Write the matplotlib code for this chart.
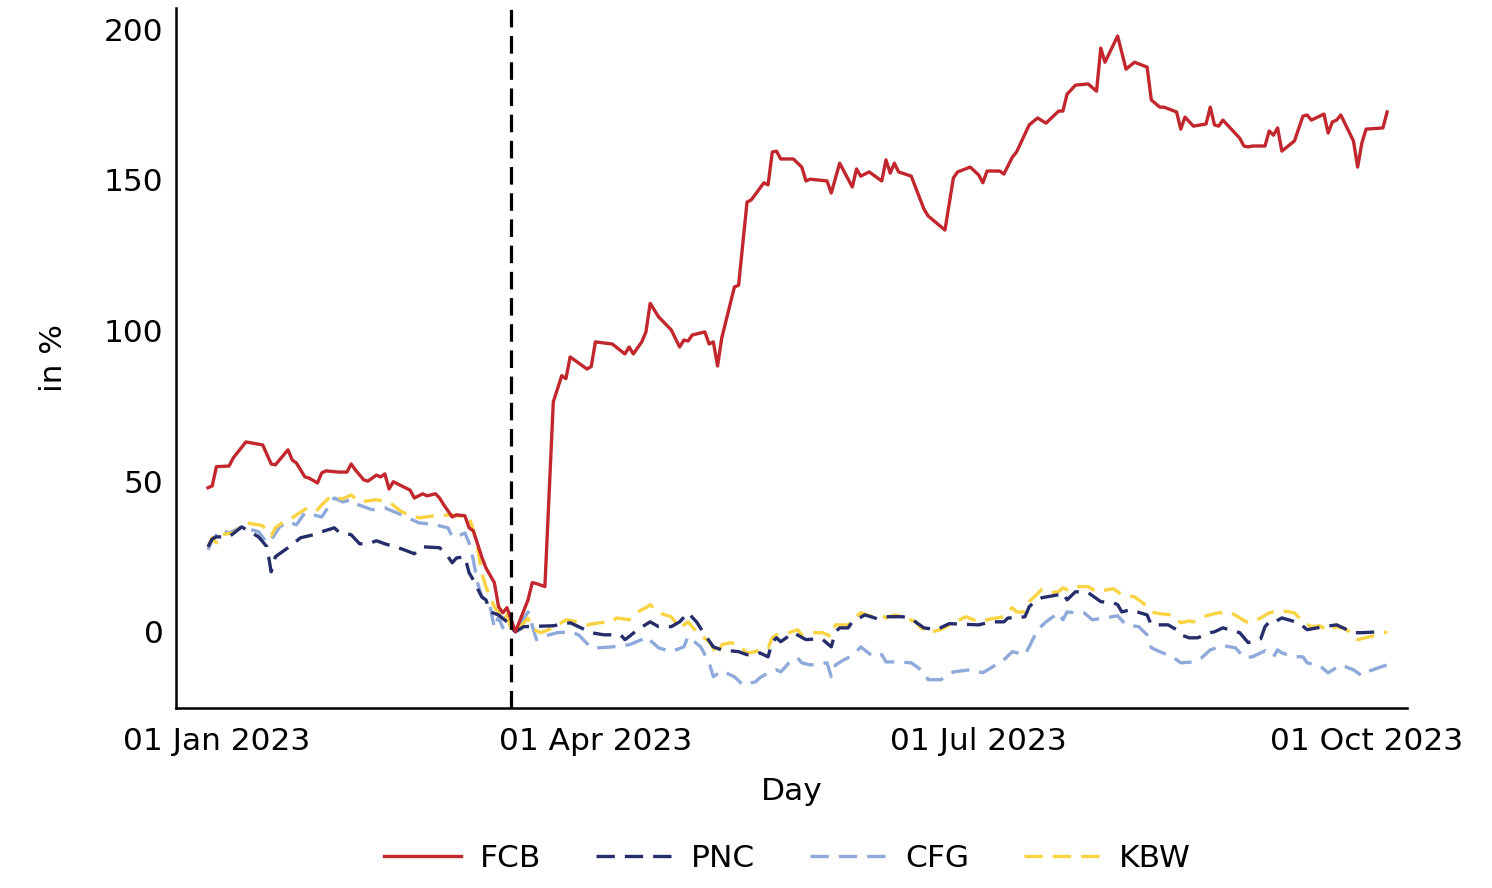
import matplotlib
matplotlib.use('Agg')
import matplotlib.pyplot as plt
import matplotlib.dates as mdates
import pandas as pd

# Kursentwicklung relativ zum 13.03.2023, in %

fcb_dates = ['2022-12-30', '2022-12-31', '2023-01-01', '2023-01-04', '2023-01-05', '2023-01-08',
             '2023-01-12', '2023-01-14', '2023-01-15', '2023-01-18', '2023-01-19', '2023-01-20',
             '2023-01-22', '2023-01-23', '2023-01-25', '2023-01-26', '2023-01-27', '2023-01-30',
             '2023-02-01', '2023-02-02', '2023-02-03', '2023-02-05', '2023-02-06', '2023-02-08',
             '2023-02-09', '2023-02-10', '2023-02-11', '2023-02-12', '2023-02-16', '2023-02-17',
             '2023-02-19', '2023-02-20', '2023-02-22', '2023-02-23', '2023-02-24', '2023-02-26',
             '2023-02-27', '2023-03-01', '2023-03-02', '2023-03-03', '2023-03-05', '2023-03-06',
             '2023-03-08', '2023-03-09', '2023-03-10', '2023-03-11', '2023-03-12', '2023-03-13',
             '2023-03-16', '2023-03-17', '2023-03-18', '2023-03-20', '2023-03-22', '2023-03-24',
             '2023-03-25', '2023-03-26', '2023-03-30', '2023-03-31', '2023-04-01', '2023-04-05',
             '2023-04-08', '2023-04-09', '2023-04-10', '2023-04-12', '2023-04-13', '2023-04-14',
             '2023-04-16', '2023-04-19', '2023-04-21', '2023-04-22', '2023-04-23', '2023-04-24',
             '2023-04-27', '2023-04-28', '2023-04-29', '2023-04-30', '2023-05-01', '2023-05-04',
             '2023-05-05', '2023-05-07', '2023-05-08', '2023-05-11', '2023-05-12', '2023-05-13',
             '2023-05-14', '2023-05-15', '2023-05-18', '2023-05-20', '2023-05-21', '2023-05-22',
             '2023-05-26', '2023-05-27', '2023-05-29', '2023-06-01', '2023-06-02', '2023-06-03',
             '2023-06-05', '2023-06-08', '2023-06-09', '2023-06-10', '2023-06-11', '2023-06-12',
             '2023-06-15', '2023-06-18', '2023-06-19', '2023-06-23', '2023-06-25', '2023-06-26',
             '2023-06-29', '2023-07-01', '2023-07-02', '2023-07-03', '2023-07-06', '2023-07-07',
             '2023-07-09', '2023-07-10', '2023-07-13', '2023-07-15', '2023-07-17', '2023-07-20',
             '2023-07-21', '2023-07-22', '2023-07-24', '2023-07-27', '2023-07-29', '2023-07-30',
             '2023-07-31', '2023-08-03', '2023-08-05', '2023-08-07', '2023-08-10', '2023-08-11',
             '2023-08-13', '2023-08-14', '2023-08-17', '2023-08-18', '2023-08-19', '2023-08-21',
             '2023-08-24', '2023-08-25', '2023-08-26', '2023-08-27', '2023-08-28', '2023-09-01',
             '2023-09-02', '2023-09-03', '2023-09-04', '2023-09-07', '2023-09-08', '2023-09-09',
             '2023-09-10', '2023-09-11', '2023-09-14', '2023-09-16', '2023-09-17', '2023-09-18',
             '2023-09-21', '2023-09-22', '2023-09-23', '2023-09-24', '2023-09-25', '2023-09-28',
             '2023-09-29', '2023-09-30', '2023-10-01', '2023-10-05', '2023-10-06']
fcb = [47.8, 48.4, 54.8, 55.0, 57.7, 63.0,
       62.0, 55.7, 55.4, 60.4, 57.0, 56.0,
       51.4, 51.0, 49.4, 52.7, 53.4, 53.0,
       53.0, 55.7, 53.7, 50.4, 50.0, 52.0,
       51.4, 52.4, 47.4, 49.8, 47.0, 44.4,
       45.8, 45.1, 45.8, 44.4, 42.1, 38.1,
       38.8, 38.5, 34.5, 33.5, 24.9, 21.2,
       16.3, 8.3, 6.3, 8.0, 4.0, 0.0,
       10.6, 16.3, 16.0, 15.0, 76.3, 85.0,
       84.0, 91.2, 87.2, 88.0, 96.2, 95.5,
       92.2, 94.5, 92.2, 96.2, 99.5, 109.0,
       104.5, 100.2, 94.5, 96.8, 96.5, 98.5,
       99.5, 95.5, 96.2, 88.2, 97.5, 114.4,
       115.0, 142.6, 143.3, 149.0, 148.3, 159.2,
       159.5, 156.9, 156.9, 154.2, 149.6, 150.2,
       149.6, 145.6, 155.5, 147.6, 153.6, 151.2,
       152.6, 149.6, 156.6, 152.2, 155.5, 152.6,
       151.2, 140.3, 138.0, 133.3, 150.6, 152.6,
       154.2, 151.6, 149.0, 152.9, 152.9, 151.9,
       157.5, 159.2, 168.2, 170.5, 168.8, 172.8,
       172.8, 178.4, 181.4, 181.8, 179.4, 193.7,
       189.0, 197.7, 186.7, 189.0, 187.4, 176.5,
       174.1, 174.1, 172.5, 166.8, 170.8, 167.8,
       168.5, 174.1, 168.2, 167.8, 169.8, 163.8,
       161.2, 160.9, 161.2, 161.2, 166.2, 164.8,
       167.2, 159.5, 162.9, 171.1, 171.5, 169.8,
       171.8, 165.5, 169.2, 169.8, 171.5, 162.9,
       154.2, 162.2, 166.8, 167.2, 172.5]

pnc_dates = ['2022-12-30', '2022-12-31', '2023-01-01', '2023-01-04', '2023-01-07', '2023-01-09',
             '2023-01-11', '2023-01-13', '2023-01-14', '2023-01-15', '2023-01-18', '2023-01-21',
             '2023-01-24', '2023-01-26', '2023-01-29', '2023-01-30', '2023-02-02', '2023-02-04',
             '2023-02-06', '2023-02-08', '2023-02-10', '2023-02-14', '2023-02-17', '2023-02-19',
             '2023-02-23', '2023-02-25', '2023-02-26', '2023-02-27', '2023-03-01', '2023-03-02',
             '2023-03-03', '2023-03-05', '2023-03-06', '2023-03-07', '2023-03-09', '2023-03-11',
             '2023-03-12', '2023-03-13', '2023-03-15', '2023-03-22', '2023-03-26', '2023-03-28',
             '2023-03-31', '2023-04-03', '2023-04-07', '2023-04-08', '2023-04-09', '2023-04-11',
             '2023-04-14', '2023-04-16', '2023-04-19', '2023-04-21', '2023-04-23', '2023-04-25',
             '2023-04-27', '2023-04-29', '2023-05-01', '2023-05-05', '2023-05-07', '2023-05-09',
             '2023-05-10', '2023-05-12', '2023-05-13', '2023-05-14', '2023-05-15', '2023-05-18',
             '2023-05-21', '2023-05-24', '2023-05-25', '2023-05-27', '2023-05-28', '2023-05-29',
             '2023-05-31', '2023-06-01', '2023-06-04', '2023-06-07', '2023-06-09', '2023-06-13',
             '2023-06-15', '2023-06-18', '2023-06-21', '2023-06-24', '2023-07-01', '2023-07-04',
             '2023-07-07', '2023-07-08', '2023-07-10', '2023-07-12', '2023-07-13', '2023-07-14',
             '2023-07-16', '2023-07-20', '2023-07-21', '2023-07-22', '2023-07-24', '2023-07-27',
             '2023-07-30', '2023-08-02', '2023-08-03', '2023-08-04', '2023-08-06', '2023-08-10',
             '2023-08-11', '2023-08-15', '2023-08-17', '2023-08-18', '2023-08-20', '2023-08-22',
             '2023-08-25', '2023-08-26', '2023-08-28', '2023-09-01', '2023-09-03', '2023-09-06',
             '2023-09-07', '2023-09-08', '2023-09-09', '2023-09-11', '2023-09-15', '2023-09-17',
             '2023-09-21', '2023-09-24', '2023-09-28', '2023-09-30', '2023-10-04']
pnc = [28.2, 30.8, 31.5, 31.5, 34.8, 33.2,
       31.5, 28.2, 19.9, 24.9, 27.9, 31.2,
       32.2, 33.2, 34.5, 33.2, 32.2, 29.2,
       29.2, 30.2, 29.2, 27.5, 25.9, 28.2,
       27.9, 24.9, 22.9, 24.5, 24.9, 19.6,
       17.2, 11.6, 10.6, 6.6, 5.6, 3.3,
       1.3, 0.0, 1.7, 2.0, 3.0, 1.7,
       -0.3, -1.0, -1.0, -2.6, -1.6, 0.7,
       3.3, 1.7, 1.7, 3.3, 6.3, 3.3,
       -1.0, -5.0, -6.0, -6.6, -7.6, -7.6,
       -7.0, -8.3, -3.3, -2.0, -3.3, -0.3,
       -2.6, -2.3, -2.6, -5.0, 0.0, 1.3,
       1.3, 3.3, 5.6, 4.3, 5.0, 5.0,
       4.3, 1.3, 0.7, 2.7, 2.3, 3.3,
       3.3, 4.6, 4.6, 5.0, 8.3, 9.6,
       11.3, 12.3, 13.0, 10.6, 13.3, 13.0,
       10.0, 9.6, 9.0, 6.6, 7.3, 5.6,
       2.3, 2.3, 0.7, -1.0, -2.0, -2.0,
       -0.3, 0.0, 1.3, -0.3, -3.6, -2.3,
       1.7, 3.3, 3.0, 4.6, 3.0, 0.7,
       1.7, 2.3, -0.3, -0.3, 0.0]

cfg_dates = ['2022-12-30', '2022-12-31', '2023-01-02', '2023-01-04', '2023-01-07', '2023-01-11',
             '2023-01-13', '2023-01-14', '2023-01-16', '2023-01-18', '2023-01-20', '2023-01-22',
             '2023-01-26', '2023-01-29', '2023-01-31', '2023-02-02', '2023-02-03', '2023-02-07',
             '2023-02-10', '2023-02-14', '2023-02-18', '2023-02-22', '2023-02-25', '2023-02-26',
             '2023-02-27', '2023-03-01', '2023-03-02', '2023-03-03', '2023-03-04', '2023-03-05',
             '2023-03-07', '2023-03-08', '2023-03-09', '2023-03-10', '2023-03-11', '2023-03-12',
             '2023-03-13', '2023-03-16', '2023-03-18', '2023-03-21', '2023-03-23', '2023-03-26',
             '2023-03-28', '2023-03-31', '2023-04-02', '2023-04-05', '2023-04-09', '2023-04-12',
             '2023-04-13', '2023-04-16', '2023-04-19', '2023-04-22', '2023-04-23', '2023-04-26',
             '2023-04-28', '2023-04-29', '2023-05-01', '2023-05-04', '2023-05-06', '2023-05-09',
             '2023-05-10', '2023-05-12', '2023-05-14', '2023-05-15', '2023-05-17', '2023-05-19',
             '2023-05-20', '2023-05-22', '2023-05-26', '2023-05-27', '2023-05-28', '2023-05-30',
             '2023-05-31', '2023-06-02', '2023-06-03', '2023-06-06', '2023-06-08', '2023-06-09',
             '2023-06-12', '2023-06-15', '2023-06-18', '2023-06-19', '2023-06-22', '2023-06-25',
             '2023-06-29', '2023-07-02', '2023-07-04', '2023-07-07', '2023-07-09', '2023-07-12',
             '2023-07-13', '2023-07-15', '2023-07-17', '2023-07-20', '2023-07-21', '2023-07-22',
             '2023-07-24', '2023-07-26', '2023-07-28', '2023-07-31', '2023-08-03', '2023-08-05',
             '2023-08-08', '2023-08-10', '2023-08-11', '2023-08-13', '2023-08-16', '2023-08-18',
             '2023-08-21', '2023-08-23', '2023-08-25', '2023-08-28', '2023-08-31', '2023-09-02',
             '2023-09-04', '2023-09-07', '2023-09-09', '2023-09-10', '2023-09-11', '2023-09-14',
             '2023-09-16', '2023-09-17', '2023-09-20', '2023-09-22', '2023-09-25', '2023-09-28',
             '2023-09-30', '2023-10-02', '2023-10-04', '2023-10-06']
cfg = [27.2, 30.5, 33.8, 32.8, 34.8, 33.2,
       29.5, 30.5, 34.8, 36.5, 35.5, 39.5,
       38.1, 44.4, 43.1, 43.8, 42.5, 40.5,
       41.1, 38.8, 36.2, 35.5, 34.5, 31.5,
       31.5, 32.8, 29.5, 23.9, 16.3, 11.6,
       8.3, 1.3, 5.0, 1.3, 5.6, 1.7,
       0.0, 6.6, -2.6, -1.0, -0.3, 0.0,
       -1.0, -5.3, -5.3, -5.0, -4.3, -2.6,
       -1.6, -5.3, -6.6, -5.0, -1.6, -5.0,
       -10.3, -14.9, -13.0, -14.9, -17.6, -16.6,
       -15.3, -13.6, -12.6, -13.3, -10.3, -8.6,
       -10.3, -11.0, -10.3, -14.9, -11.0, -9.3,
       -8.6, -6.6, -5.0, -8.3, -7.6, -10.0,
       -10.0, -10.3, -13.3, -15.9, -15.9, -13.3,
       -12.6, -13.6, -11.9, -9.3, -6.6, -7.6,
       -5.0, 0.7, 3.3, 6.3, 4.0, 6.6,
       6.3, 6.3, 4.0, 4.6, 5.3, 2.3,
       1.7, -1.0, -5.3, -6.6, -8.3, -10.3,
       -10.0, -8.6, -6.0, -4.6, -5.3, -8.6,
       -8.3, -6.3, -8.3, -6.0, -7.0, -8.3,
       -8.3, -10.3, -11.3, -13.6, -11.0, -12.6,
       -14.6, -12.9, -11.9, -11.0]

kbw_dates = ['2022-12-30', '2022-12-31', '2023-01-01', '2023-01-02', '2023-01-05', '2023-01-08',
             '2023-01-12', '2023-01-14', '2023-01-15', '2023-01-17', '2023-01-19', '2023-01-20',
             '2023-01-23', '2023-01-25', '2023-01-26', '2023-01-28', '2023-01-31', '2023-02-02',
             '2023-02-04', '2023-02-08', '2023-02-11', '2023-02-14', '2023-02-18', '2023-02-22',
             '2023-02-26', '2023-02-27', '2023-03-02', '2023-03-03', '2023-03-04', '2023-03-05',
             '2023-03-06', '2023-03-08', '2023-03-09', '2023-03-10', '2023-03-11', '2023-03-12',
             '2023-03-13', '2023-03-16', '2023-03-17', '2023-03-19', '2023-03-22', '2023-03-25',
             '2023-03-28', '2023-03-30', '2023-04-02', '2023-04-05', '2023-04-06', '2023-04-09',
             '2023-04-11', '2023-04-13', '2023-04-14', '2023-04-16', '2023-04-19', '2023-04-21',
             '2023-04-23', '2023-04-25', '2023-04-28', '2023-04-30', '2023-05-01', '2023-05-03',
             '2023-05-05', '2023-05-07', '2023-05-09', '2023-05-11', '2023-05-12', '2023-05-13',
             '2023-05-14', '2023-05-16', '2023-05-17', '2023-05-19', '2023-05-20', '2023-05-22',
             '2023-05-25', '2023-05-27', '2023-05-28', '2023-05-31', '2023-06-01', '2023-06-03',
             '2023-06-06', '2023-06-08', '2023-06-09', '2023-06-11', '2023-06-13', '2023-06-16',
             '2023-06-17', '2023-06-19', '2023-06-22', '2023-06-25', '2023-06-28', '2023-07-01',
             '2023-07-04', '2023-07-07', '2023-07-09', '2023-07-10', '2023-07-12', '2023-07-13',
             '2023-07-16', '2023-07-18', '2023-07-20', '2023-07-21', '2023-07-22', '2023-07-23',
             '2023-07-27', '2023-07-29', '2023-08-02', '2023-08-04', '2023-08-07', '2023-08-09',
             '2023-08-11', '2023-08-13', '2023-08-16', '2023-08-18', '2023-08-20', '2023-08-21',
             '2023-08-24', '2023-08-26', '2023-08-27', '2023-08-30', '2023-09-01', '2023-09-03',
             '2023-09-05', '2023-09-06', '2023-09-08', '2023-09-11', '2023-09-14', '2023-09-16',
             '2023-09-18', '2023-09-20', '2023-09-22', '2023-09-24', '2023-09-26', '2023-09-28',
             '2023-09-29', '2023-10-02', '2023-10-04', '2023-10-06']
kbw = [28.2, 31.2, 29.5, 32.2, 32.8, 36.2,
       35.2, 31.8, 34.5, 36.5, 37.8, 38.8,
       41.5, 40.5, 42.1, 44.8, 44.1, 45.4,
       43.1, 43.8, 43.1, 39.8, 37.8, 38.5,
       38.8, 38.5, 38.1, 33.8, 27.9, 19.6,
       14.9, 8.3, 6.3, 3.0, 5.6, 0.7,
       0.0, 4.5, 1.0, -0.3, 1.3, 4.0,
       3.3, 2.3, 3.0, 3.3, 4.6, 4.0,
       6.6, 8.0, 9.0, 6.3, 5.0, 1.3,
       3.3, 0.0, -3.3, -7.6, -4.3, -3.6,
       -4.3, -7.0, -6.6, -5.0, -5.3, -2.0,
       -1.0, -1.0, -0.3, 0.7, -1.0, -0.3,
       -0.3, -1.6, 2.3, 2.3, 4.0, 6.3,
       5.0, 5.6, 4.6, 5.6, 5.0, 3.3,
       1.7, -0.3, 0.7, 3.0, 5.0, 3.3,
       4.3, 5.0, 8.0, 6.6, 6.6, 10.0,
       14.0, 13.0, 13.3, 14.6, 14.0, 15.0,
       15.0, 13.3, 14.3, 12.3, 11.6, 9.6,
       6.6, 6.0, 5.6, 3.0, 3.6, 3.3,
       5.3, 6.0, 6.3, 6.3, 4.6, 3.0,
       4.0, 4.6, 6.3, 7.0, 6.3, 3.3,
       1.7, 2.0, 0.3, 1.7, 1.0, -1.0,
       -2.6, -1.6, -1.0, 0.0]

event_date = '2023-03-12'

plt.rcParams['font.family'] = ['DejaVu Sans']

fig = plt.figure(figsize=(14.92, 8.88), dpi=100)
ax = fig.add_axes([0.118, 0.203, 0.825, 0.788])

ax.plot(pd.to_datetime(fcb_dates), fcb, color='#c1272d', lw=2.4, label='FCB', zorder=5)
ax.plot(pd.to_datetime(pnc_dates), pnc, color='#252e6b', lw=2.4, dashes=(5.5, 3), label='PNC', zorder=4)
ax.plot(pd.to_datetime(cfg_dates), cfg, color='#8eaadb', lw=2.4, dashes=(5.5, 3), label='CFG', zorder=2)
ax.plot(pd.to_datetime(kbw_dates), kbw, color='#f9d342', lw=2.4, dashes=(5.5, 3), label='KBW', zorder=3)
ax.axvline(pd.Timestamp(event_date), color='black', lw=2.3, dashes=(5.5, 2.7), zorder=6)

ax.set_xlim(pd.Timestamp('2022-12-22 10:00'), pd.Timestamp('2023-10-10 17:00'))
ax.set_ylim(-25.2, 207)
ax.set_yticks([0, 50, 100, 150, 200])
ax.xaxis.set_major_locator(mdates.MonthLocator(bymonth=[1, 4, 7, 10]))
ax.xaxis.set_major_formatter(mdates.DateFormatter('%d %b %Y'))

for s in ['top', 'right']:
    ax.spines[s].set_visible(False)
for s in ['left', 'bottom']:
    ax.spines[s].set_linewidth(1.8)
ax.tick_params(length=0, labelsize=22.5)
ax.tick_params(axis='x', pad=14)
ax.tick_params(axis='y', pad=9)

ax.set_xlabel('Day', fontsize=22.5, labelpad=15)
ax.set_ylabel('in %', fontsize=22.5, labelpad=26)

fig.legend(loc='center', bbox_to_anchor=(0.528, 0.033), ncol=4, frameon=False,
           fontsize=22.5, handlelength=2.45, handletextpad=0.6, columnspacing=1.75)

fig.savefig('out.png', dpi=100)
